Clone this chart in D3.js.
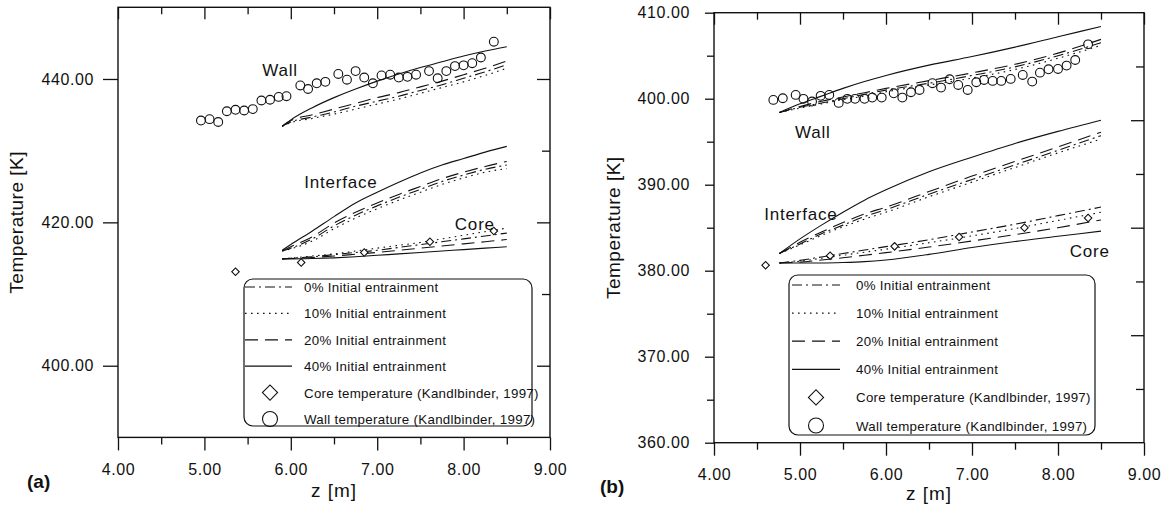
<!DOCTYPE html>
<html>
<head>
<meta charset="utf-8">
<script src="https://cdn.jsdelivr.net/npm/d3@7"></script>
<style>
body { margin: 0; background: #fff; }
svg { display: block; font-family: "Liberation Sans", Arial, sans-serif; }
</style>
</head>
<body>
<svg id="chart" width="1167" height="506"></svg>
<script>
// ---- panel (a) model curves, z [m] vs T [K] ----
const zModelA  = [5.9, 6.0, 6.25, 6.5, 6.75, 7.0, 7.25, 7.5, 7.75, 8.0, 8.25, 8.5];
const wallA_0  = [433.4, 434.0, 434.7, 435.4, 436.2, 436.9, 437.6, 438.4, 439.2, 440.1, 441.0, 442.0];
const wallA_10 = [433.4, 433.9, 434.5, 435.1, 435.8, 436.5, 437.2, 438.0, 438.8, 439.6, 440.5, 441.5];
const wallA_20 = [433.4, 434.2, 435.0, 435.8, 436.6, 437.4, 438.1, 438.9, 439.7, 440.6, 441.5, 442.5];
const wallA_40 = [433.4, 434.3, 436.0, 437.4, 438.6, 439.7, 440.7, 441.6, 442.4, 443.2, 443.9, 444.5];
const interA_0  = [416.0, 416.4, 417.7, 419.5, 421.0, 422.3, 423.5, 424.6, 425.7, 426.6, 427.4, 428.0];
const interA_10 = [416.0, 416.3, 417.4, 419.1, 420.6, 421.9, 423.1, 424.2, 425.3, 426.2, 427.0, 427.5];
const interA_20 = [416.0, 416.6, 418.0, 419.9, 421.4, 422.7, 423.9, 425.0, 426.1, 427.0, 427.8, 428.5];
const interA_40 = [416.1, 416.9, 418.8, 420.8, 422.7, 424.2, 425.6, 426.9, 428.0, 428.9, 429.8, 430.6];
const coreA_0  = [414.9, 415.0, 415.2, 415.5, 415.8, 416.1, 416.5, 416.9, 417.3, 417.7, 418.1, 418.5];
const coreA_10 = [414.9, 415.0, 415.3, 415.6, 416.0, 416.4, 416.8, 417.2, 417.7, 418.2, 418.7, 419.2];
const coreA_20 = [414.9, 414.95, 415.1, 415.3, 415.55, 415.8, 416.1, 416.4, 416.7, 417.0, 417.3, 417.6];
const coreA_40 = [414.9, 414.9, 414.95, 415.05, 415.2, 415.4, 415.6, 415.8, 416.0, 416.2, 416.4, 416.6];
// panel (a) measurements (Kandlbinder, 1997)
const wallZA = [4.96, 5.06, 5.16, 5.26, 5.36, 5.46, 5.56, 5.66, 5.76, 5.86, 5.95, 6.11, 6.20, 6.30, 6.40, 6.55, 6.65,
                6.75, 6.85, 6.95, 7.05, 7.15, 7.25, 7.35, 7.45, 7.60, 7.70, 7.80, 7.90, 8.00, 8.10, 8.20, 8.35];
const wallTA = [434.2, 434.4, 434.0, 435.5, 435.7, 435.6, 435.8, 437.0, 437.1, 437.5, 437.6, 439.1, 438.6, 439.4, 439.6, 440.7, 439.9,
                441.1, 440.2, 439.4, 440.5, 440.6, 440.2, 440.3, 440.6, 441.1, 440.1, 441.1, 441.8, 441.9, 442.2, 443.0, 445.2];
const coreZA = [5.36, 6.12, 6.85, 7.61, 8.35];
const coreTA = [413.1, 414.4, 415.8, 417.3, 418.8];

// ---- panel (b) model curves ----
const zModelB  = [4.76, 5.0, 5.25, 5.5, 5.75, 6.0, 6.5, 7.0, 7.5, 8.0, 8.5];
const wallB_0  = [398.4, 399.0, 399.5, 400.0, 400.5, 401.0, 401.8, 402.7, 403.7, 405.0, 406.5];
const wallB_10 = [398.4, 398.9, 399.4, 399.9, 400.3, 400.8, 401.6, 402.4, 403.4, 404.7, 406.2];
const wallB_20 = [398.4, 399.1, 399.7, 400.2, 400.7, 401.2, 402.1, 403.0, 404.0, 405.3, 406.9];
const wallB_40 = [398.4, 399.4, 400.3, 401.2, 402.0, 402.7, 403.9, 404.9, 406.0, 407.2, 408.4];
const interB_0  = [382.0, 383.1, 384.3, 385.3, 386.3, 387.1, 388.9, 390.6, 392.3, 394.0, 395.7];
const interB_10 = [382.0, 383.0, 384.1, 385.1, 386.0, 386.8, 388.6, 390.3, 392.0, 393.7, 395.3];
const interB_20 = [382.0, 383.3, 384.5, 385.6, 386.6, 387.4, 389.2, 391.0, 392.7, 394.4, 396.1];
const interB_40 = [382.0, 383.7, 385.3, 386.8, 388.2, 389.4, 391.5, 393.2, 394.8, 396.2, 397.5];
const coreB_0  = [380.9, 381.2, 381.6, 382.0, 382.4, 382.8, 383.6, 384.5, 385.4, 386.4, 387.4];
const coreB_10 = [380.9, 381.1, 381.45, 381.8, 382.15, 382.5, 383.25, 384.05, 384.9, 385.85, 386.8];
const coreB_20 = [380.9, 381.0, 381.25, 381.5, 381.8, 382.1, 382.75, 383.45, 384.2, 385.0, 385.9];
const coreB_40 = [380.9, 380.9, 380.9, 380.95, 381.05, 381.25, 381.9, 382.7, 383.4, 384.0, 384.6];
// panel (b) measurements
const wallZB = [4.69, 4.80, 4.95, 5.04, 5.14, 5.24, 5.34, 5.45, 5.55, 5.64, 5.75, 5.84, 5.95, 6.09, 6.19, 6.29, 6.39, 6.54,
                6.64, 6.74, 6.84, 6.95, 7.05, 7.14, 7.24, 7.34, 7.45, 7.59, 7.70, 7.79, 7.89, 8.00, 8.10, 8.20, 8.35];
const wallTB = [399.86, 400.05, 400.44, 399.98, 399.67, 400.33, 400.44, 399.51, 399.98, 399.98, 399.98, 400.13, 400.13, 400.63,
                400.13, 400.75, 401.02, 401.80, 401.29, 402.26, 401.60, 401.02, 401.91, 402.18, 402.07, 402.07, 402.30, 402.76,
                401.99, 403.03, 403.42, 403.46, 403.85, 404.50, 406.32];
const coreZB = [4.60, 5.35, 6.10, 6.85, 7.61, 8.35];
const coreTB = [380.63, 381.75, 382.83, 383.92, 385.0, 386.12];

// ---- ticks and labels ----
const xMajor = [4, 5, 6, 7, 8, 9];
const xMinor = [4.5, 5.5, 6.5, 7.5, 8.5];
const yMajorA = [400, 420, 440];
const yMinorA = [410, 430];
const yMajorB = [360, 370, 380, 390, 400, 410];
const yMinorB = [365, 375, 385, 395, 405];
const seriesNames = ["0% Initial entrainment", "10% Initial entrainment", "20% Initial entrainment", "40% Initial entrainment"];
const markerNames = ["Core temperature (Kandlbinder, 1997)", "Wall temperature (Kandlbinder, 1997)"];
const dashes = ["10,4,2,4", "1.6,4.4", "13,7", null];

const svg = d3.select("#chart");
const fmt = d3.format(".2f");

function add_axes(g, x, y, cfg) {
    // bottom, outward ticks with labels
    g.append("g").attr("transform", `translate(0,${y.range()[0]})`)
        .call(d3.axisBottom(x).tickValues(xMajor).tickSize(13).tickPadding(13).tickFormat(fmt).tickSizeOuter(0));
    g.append("g").attr("transform", `translate(0,${y.range()[0]})`)
        .call(d3.axisBottom(x).tickValues(xMinor).tickSize(7).tickFormat("").tickSizeOuter(0));
    // top, inward ticks
    g.append("g").attr("transform", `translate(0,${y.range()[1]})`)
        .call(d3.axisBottom(x).tickValues(xMajor).tickSize(12).tickFormat("").tickSizeOuter(0));
    g.append("g").attr("transform", `translate(0,${y.range()[1]})`)
        .call(d3.axisBottom(x).tickValues(xMinor).tickSize(7).tickFormat("").tickSizeOuter(0));
    // left, outward ticks with labels
    g.append("g").attr("transform", `translate(${x.range()[0]},0)`)
        .call(d3.axisLeft(y).tickValues(cfg.yMajor).tickSize(cfg.leftTick).tickPadding(24 - cfg.leftTick).tickFormat(fmt).tickSizeOuter(0));
    if (cfg.leftMinor) {
        g.append("g").attr("transform", `translate(${x.range()[0]},0)`)
            .call(d3.axisLeft(y).tickValues(cfg.yMinor).tickSize(7).tickFormat("").tickSizeOuter(0));
    }
    // right, inward ticks (own scale)
    const yr = d3.scaleLinear().domain(cfg.rightDomain).range(y.range());
    g.append("g").attr("transform", `translate(${x.range()[1]},0)`)
        .call(d3.axisLeft(yr).tickValues(cfg.rightMajor).tickSize(13).tickFormat("").tickSizeOuter(0));
    g.append("g").attr("transform", `translate(${x.range()[1]},0)`)
        .call(d3.axisLeft(yr).tickValues(cfg.rightMinor).tickSize(8).tickFormat("").tickSizeOuter(0));

    g.selectAll(".domain").remove();
    g.selectAll(".tick line").attr("stroke", "#111").attr("stroke-width", 1.3);
    g.selectAll(".tick text").attr("fill", "#111").style("font-size", "16px").style("letter-spacing", "0.6px")
        .style("font-family", "'Liberation Sans', Arial, sans-serif");

    // frame
    g.append("rect")
        .attr("x", x.range()[0]).attr("y", y.range()[1])
        .attr("width", x.range()[1] - x.range()[0]).attr("height", y.range()[0] - y.range()[1])
        .attr("fill", "none").attr("stroke", "#111").attr("stroke-width", 1.4);
}

function add_curves(g, x, y, z, groups) {
    const line = d3.line().x(d => x(d[0])).y(d => y(d[1])).curve(d3.curveMonotoneX);
    groups.forEach(set => {
        set.forEach((vals, i) => {
            g.append("path")
                .datum(z.map((zz, k) => [zz, vals[k]]))
                .attr("d", line)
                .attr("fill", "none")
                .attr("stroke", "#111")
                .attr("stroke-width", 1.1)
                .attr("stroke-dasharray", dashes[i]);
        });
    });
}

function add_markers(g, x, y, wz, wt, cz, ct) {
    g.append("g").selectAll("circle")
        .data(wz.map((z, i) => [z, wt[i]]))
        .enter()
        .append("circle")
            .attr("cx", d => x(d[0]))
            .attr("cy", d => y(d[1]))
            .attr("r", 4.4)
            .attr("fill", "none")
            .attr("stroke", "#111")
            .attr("stroke-width", 1.1);
    const diamond = d3.symbol().type(d3.symbolSquare).size(28);
    g.append("g").selectAll("path")
        .data(cz.map((z, i) => [z, ct[i]]))
        .enter()
        .append("path")
            .attr("d", diamond)
            .attr("transform", d => `translate(${x(d[0])},${y(d[1])}) rotate(45)`)
            .attr("fill", "#fff")
            .attr("stroke", "#111")
            .attr("stroke-width", 1.1);
}

function add_legend(g, L) {
    g.append("rect")
        .attr("x", L.x0).attr("y", L.y0)
        .attr("width", L.x1 - L.x0).attr("height", L.y1 - L.y0)
        .attr("rx", 9).attr("ry", 9)
        .attr("fill", "#fff").attr("stroke", "#111").attr("stroke-width", 1.2);
    const rowY = i => L.row0 + i * L.step;
    seriesNames.forEach((name, i) => {
        g.append("line")
            .attr("x1", L.s0).attr("x2", L.s1)
            .attr("y1", rowY(i)).attr("y2", rowY(i))
            .attr("stroke", "#111").attr("stroke-width", 1.2)
            .attr("stroke-dasharray", dashes[i]);
    });
    const big = d3.symbol().type(d3.symbolSquare).size(115);
    g.append("path").attr("d", big)
        .attr("transform", `translate(${L.sc},${rowY(4)}) rotate(45)`)
        .attr("fill", "none").attr("stroke", "#111").attr("stroke-width", 1.1);
    g.append("circle").attr("cx", L.sc).attr("cy", rowY(5)).attr("r", 7.5)
        .attr("fill", "none").attr("stroke", "#111").attr("stroke-width", 1.1);
    g.append("g").selectAll("text")
        .data(seriesNames.concat(markerNames))
        .enter()
        .append("text")
            .attr("x", L.tx)
            .attr("y", (d, i) => rowY(i) + 5)
            .text(d => d)
            .attr("fill", "#111")
            .style("font-size", "13.3px")
            .style("letter-spacing", "0.3px");
}

function create_panel(cfg) {
    const g = svg.append("g");
    const x = d3.scaleLinear().domain([4, 9]).range(cfg.xRange);
    const y = d3.scaleLinear().domain(cfg.yDomain).range(cfg.yRange);
    add_curves(g, x, y, cfg.z, cfg.curves);
    add_markers(g, x, y, cfg.wz, cfg.wt, cfg.cz, cfg.ct);
    add_axes(g, x, y, cfg);
    // region labels
    cfg.notes.forEach(n => {
        g.append("text").attr("x", x(n[1])).attr("y", y(n[2]))
            .attr("text-anchor", "middle").text(n[0])
            .attr("fill", "#111").style("font-size", "17px").style("letter-spacing", "0.8px");
    });
    add_legend(g, cfg.legend);
    // axis titles
    const xm = (cfg.xRange[0] + cfg.xRange[1]) / 2;
    const ym = (cfg.yRange[0] + cfg.yRange[1]) / 2;
    g.append("text").attr("x", xm).attr("y", cfg.xTitleY).attr("text-anchor", "middle")
        .text("z [m]").attr("fill", "#111").style("font-size", "19px").style("letter-spacing", "1px");
    g.append("text").attr("transform", `translate(${cfg.yTitleX},${ym}) rotate(-90)`).attr("text-anchor", "middle")
        .text("Temperature [K]").attr("fill", "#111").style("font-size", "19px").style("letter-spacing", "0.5px");
    g.append("text").attr("x", cfg.tag[1]).attr("y", cfg.tag[2]).text(cfg.tag[0])
        .attr("fill", "#111").style("font-size", "19px").style("font-weight", "bold");
}

create_panel({
    xRange: [118, 550], yDomain: [390, 450], yRange: [437.4, 7.3],
    z: zModelA,
    curves: [[wallA_0, wallA_10, wallA_20, wallA_40], [interA_0, interA_10, interA_20, interA_40],
             [coreA_0, coreA_10, coreA_20, coreA_40]],
    wz: wallZA, wt: wallTA, cz: coreZA, ct: coreTA,
    yMajor: yMajorA, yMinor: yMinorA, leftTick: 15, leftMinor: false,
    rightDomain: [390, 450], rightMajor: yMajorA, rightMinor: yMinorA,
    notes: [["Wall", 5.875, 440.4], ["Interface", 6.58, 424.8], ["Core", 8.13, 418.9]],
    legend: {x0: 244, x1: 532, y0: 279, y1: 426, row0: 287, step: 26.4, s0: 245, s1: 292, sc: 270, tx: 304},
    xTitleY: 497, yTitleX: 23, tag: ["(a)", 27, 488]
});

create_panel({
    xRange: [714, 1144], yDomain: [360, 410], yRange: [442.7, 12.7],
    z: zModelB,
    curves: [[wallB_0, wallB_10, wallB_20, wallB_40], [interB_0, interB_10, interB_20, interB_40],
             [coreB_0, coreB_10, coreB_20, coreB_40]],
    wz: wallZB, wt: wallTB, cz: coreZB, ct: coreTB,
    yMajor: yMajorB, yMinor: yMinorB, leftTick: 9, leftMinor: true,
    rightDomain: [0, 8], rightMajor: [2, 4, 6], rightMinor: [1, 3, 5, 7],
    notes: [["Wall", 5.15, 395.4], ["Interface", 5.01, 385.9], ["Core", 8.37, 381.6]],
    legend: {x0: 789, x1: 1095, y0: 275, y1: 435, row0: 285, step: 28.1, s0: 792, s1: 840, sc: 816, tx: 856},
    xTitleY: 500, yTitleX: 620, tag: ["(b)", 600, 493]
});
</script>
</body>
</html>
